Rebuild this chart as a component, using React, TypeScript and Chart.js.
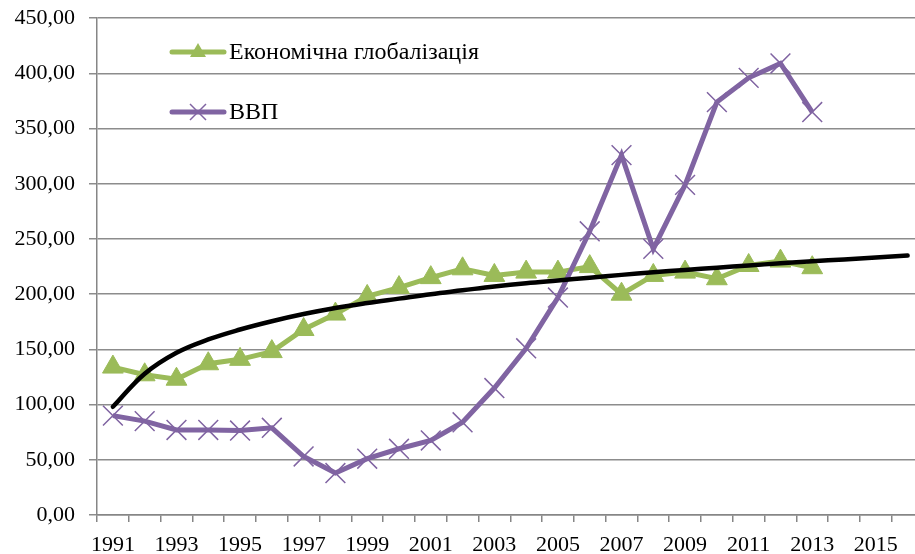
import React, { useEffect, useRef } from "react";
import { Chart, registerables } from "chart.js";

Chart.register(...registerables);

const years = [
  "1991", "1992", "1993", "1994", "1995", "1996", "1997", "1998", "1999", "2000",
  "2001", "2002", "2003", "2004", "2005", "2006", "2007", "2008", "2009", "2010",
  "2011", "2012", "2013", "2014", "2015", "2016",
];

const globalization = [
  134, 127, 123, 137, 141, 148, 168, 182, 198, 206,
  215, 223, 217, 220, 220, 225, 200, 217, 220, 214,
  226, 230, 224,
];

const gdp = [
  90, 85, 77, 77, 76.5, 79, 53, 38, 51, 60,
  67.5, 84, 115, 151, 197, 257, 326, 241, 299, 374,
  396, 409, 365,
];

const trend = [
  98, 128, 147, 159, 168, 175.5, 182, 187.5, 192, 196,
  200, 203.5, 207, 210, 212.5, 215, 217.5, 219.8, 222, 224,
  226, 228, 229.8, 231.5, 233.2, 235,
];

const legendLabels = ["Економічна глобалізація", "ВВП"];

const GREEN = "#9BBB59";
const PURPLE = "#8064A2";
const FONT = "'Liberation Serif', 'Times New Roman', serif";
const SHIFT = 9;

const legendPlugin = {
  id: "insideLegend",
  afterDraw(chart: any) {
    const ctx = chart.ctx;
    const items = [
      { text: legendLabels[0], color: GREEN, y: 52 + SHIFT, style: "triangle" },
      { text: legendLabels[1], color: PURPLE, y: 112 + SHIFT, style: "cross" },
    ];
    ctx.save();
    for (const it of items) {
      ctx.strokeStyle = it.color;
      ctx.lineWidth = 5;
      ctx.lineCap = "round";
      ctx.beginPath();
      ctx.moveTo(172, it.y);
      ctx.lineTo(224, it.y);
      ctx.stroke();
      const cx = 198;
      if (it.style === "triangle") {
        ctx.fillStyle = it.color;
        ctx.beginPath();
        ctx.moveTo(cx, it.y - 9);
        ctx.lineTo(cx + 8, it.y + 5);
        ctx.lineTo(cx - 8, it.y + 5);
        ctx.closePath();
        ctx.fill();
      } else {
        ctx.lineWidth = 1.5;
        ctx.lineCap = "butt";
        ctx.beginPath();
        ctx.moveTo(cx - 8, it.y - 8);
        ctx.lineTo(cx + 8, it.y + 8);
        ctx.moveTo(cx + 8, it.y - 8);
        ctx.lineTo(cx - 8, it.y + 8);
        ctx.stroke();
      }
      ctx.fillStyle = "#000";
      ctx.font = `24px ${FONT}`;
      ctx.textBaseline = "middle";
      ctx.textAlign = "left";
      ctx.fillText(it.text, 229, it.y + 1);
    }
    ctx.restore();
  },
};

export default function App() {
  const ref = useRef<HTMLCanvasElement | null>(null);

  useEffect(() => {
    if (!ref.current) return;
    const chart = new Chart(ref.current, {
      type: "line",
      data: {
        labels: years,
        datasets: [
          {
            label: "Тренд",
            data: trend,
            borderColor: "#000000",
            borderWidth: 4.5,
            pointRadius: 0,
            tension: 0.4,
            borderCapStyle: "round",
            order: 0,
          },
          {
            label: legendLabels[0],
            data: globalization,
            borderColor: GREEN,
            backgroundColor: GREEN,
            borderWidth: 5,
            pointStyle: "triangle",
            pointRadius: 12,
            pointBorderWidth: 1,
            pointBorderColor: GREEN,
            pointBackgroundColor: GREEN,
            order: 2,
          },
          {
            label: legendLabels[1],
            data: gdp,
            borderColor: PURPLE,
            backgroundColor: PURPLE,
            borderWidth: 5,
            pointStyle: "crossRot",
            pointRadius: 14,
            pointBorderWidth: 1.5,
            pointBorderColor: PURPLE,
            order: 1,
          },
        ],
      },
      options: {
        responsive: false,
        animation: false,
        devicePixelRatio: 1,
        layout: { padding: { top: 10, left: 0, right: 0, bottom: 0 } },
        plugins: {
          legend: { display: false },
          tooltip: { enabled: false },
        },
        scales: {
          x: {
            type: "category",
            offset: true,
            afterFit: (s: any) => {
              s.height = 39;
            },
            border: { color: "#868686", width: 1.5 },
            grid: {
              offset: true,
              drawOnChartArea: false,
              drawTicks: true,
              tickLength: 7,
              color: "#868686",
              lineWidth: 1.5,
            },
            ticks: {
              autoSkip: false,
              maxRotation: 0,
              minRotation: 0,
              padding: 10,
              color: "#000",
              font: { family: FONT, size: 22 },
              callback: (_v: any, i: number) => (i % 2 === 0 ? years[i] : ""),
            },
          },
          y: {
            min: 0,
            max: 450,
            afterFit: (s: any) => {
              s.width = 97;
            },
            border: { color: "#868686", width: 1.5 },
            grid: {
              color: "#8c8c8c",
              lineWidth: 1.5,
              tickLength: 8,
            },
            ticks: {
              stepSize: 50,
              padding: 14,
              color: "#000",
              font: { family: FONT, size: 22 },
              callback: (v: any) => Number(v).toFixed(2).replace(".", ","),
            },
          },
        },
      },
      plugins: [legendPlugin],
    });
    return () => chart.destroy();
  }, []);

  return (
    <div
      style={{
        position: "fixed",
        left: 0,
        top: 0,
        width: 915,
        height: 554,
        overflow: "hidden",
        background: "#fff",
      }}
    >
      <canvas
        ref={ref}
        width={939}
        height={554 + SHIFT}
        style={{ display: "block", marginTop: -SHIFT }}
      />
    </div>
  );
}
